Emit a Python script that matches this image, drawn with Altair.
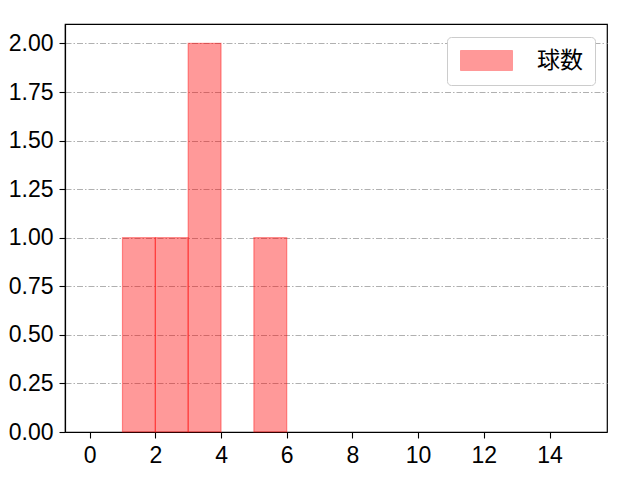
import altair as alt
import pandas as pd

bin_left = [1, 2, 3, 5]
bin_right = [2, 3, 4, 6]
counts = [1, 1, 2, 1]
series = ["球数", "球数", "球数", "球数"]
x_ticks = [0, 2, 4, 6, 8, 10, 12, 14]
y_ticks = [0, 0.25, 0.5, 0.75, 1.0, 1.25, 1.5, 1.75, 2.0]

df = pd.DataFrame({"left": bin_left, "right": bin_right, "count": counts, "series": series})
df["zero"] = 0

FONT = "Liberation Sans"
CJK = "Noto Sans CJK JP"

chart = alt.Chart(df).mark_rect(
    fillOpacity=0.4, strokeOpacity=0.4, stroke="#ff0000", strokeWidth=1.2
).encode(
    x=alt.X("left:Q", scale=alt.Scale(domain=[-0.75, 15.75], nice=False, zero=False),
            axis=alt.Axis(values=x_ticks, title=None, grid=False, format="d")),
    x2="right:Q",
    y=alt.Y("count:Q", scale=alt.Scale(domain=[0, 2.1], nice=False),
            axis=alt.Axis(values=y_ticks, title=None, format=".2f", grid=True,
                          gridDash=[6, 2, 1.5, 2], gridColor="#b0b0b0", gridWidth=1.1)),
    y2="zero:Q",
    color=alt.Color("series:N", scale=alt.Scale(range=["#ff0000"]),
                    legend=alt.Legend(
                        title=None, orient="none", legendX=382, legendY=13,
                        symbolType="M-1,-1H4.2V1H-1Z", symbolSize=400,
                        symbolOpacity=0.4, symbolStrokeColor="#ff0000", symbolStrokeWidth=1,
                        labelFontSize=23, labelFont=CJK, labelColor="black",
                        labelOffset=55, padding=12, strokeColor="#cccccc",
                        fillColor="white", cornerRadius=4,
                    )),
).properties(
    width=542, height=408,
    autosize=alt.AutoSizeParams(type="none"),
    padding={"left": 57, "top": 16, "right": 25, "bottom": 40},
).configure_view(
    stroke="black", strokeWidth=1.2
).configure_axis(
    labelFont=FONT, labelFontSize=23, labelColor="black",
    domainColor="black", domainWidth=1.2, tickColor="black", tickWidth=1.1,
    tickSize=6, labelPadding=6,
)

chart.save("out.html", embed_options={"renderer": "svg", "actions": False})
